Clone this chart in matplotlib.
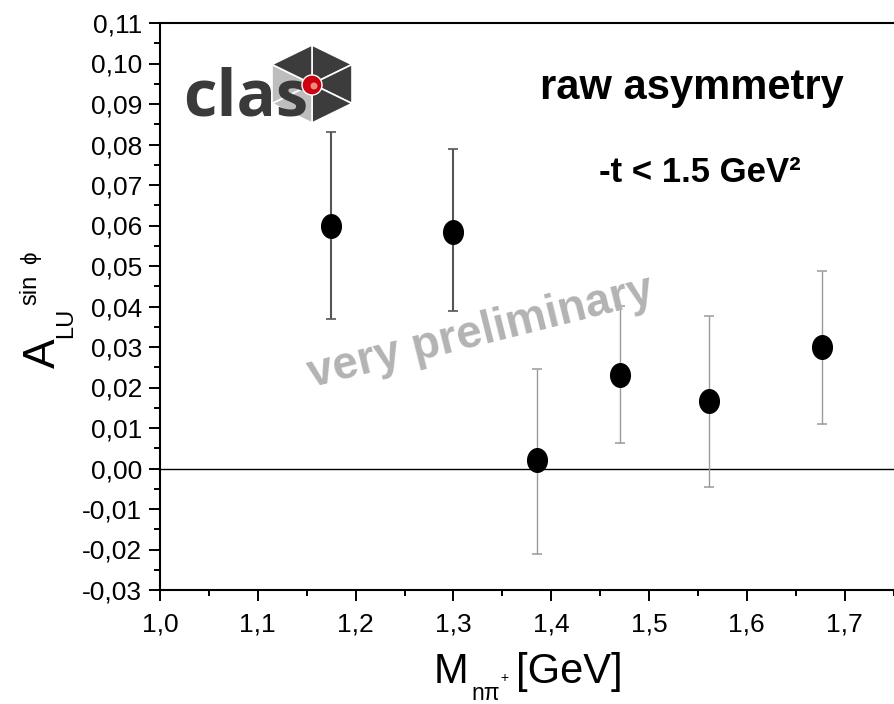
import numpy as np
import matplotlib
matplotlib.use("Agg")
import matplotlib.pyplot as plt
from matplotlib.ticker import MultipleLocator, FuncFormatter
from matplotlib.path import Path
from matplotlib.transforms import Affine2D
from matplotlib.patches import Polygon, Circle

plt.rcParams['font.family'] = ['Liberation Sans', 'DejaVu Sans']

# M(n pi+) bins and raw beam-spin asymmetry
mass = [1.175, 1.300, 1.385, 1.470, 1.561, 1.677]
asym = [0.0600, 0.0585, 0.0020, 0.0232, 0.0167, 0.0300]
err_lo = [0.0230, 0.0195, 0.0230, 0.0170, 0.0213, 0.0190]
err_hi = [0.0230, 0.0205, 0.0226, 0.0170, 0.0210, 0.0188]

x_ticks = [1.0, 1.1, 1.2, 1.3, 1.4, 1.5, 1.6, 1.7]

W, H = 894, 704
fig = plt.figure(figsize=(W / 100, H / 100), dpi=100)
ax = fig.add_axes([160 / W, 114 / H, 734 / W, 567 / H])

# slightly tall elliptical marker
ellipse = Path.unit_circle().transformed(Affine2D().scale(1.0, 1.2))

m = np.array(mass)
a = np.array(asym)
yerr = np.array([err_lo, err_hi])

ax.errorbar(m[:2], a[:2], yerr=yerr[:, :2], fmt='none', ecolor='#555555',
            elinewidth=1.5, capsize=3.6, capthick=1.2, zorder=2)
ax.errorbar(m[2:], a[2:], yerr=yerr[:, 2:], fmt='none', ecolor='#9a9a9a',
            elinewidth=1.0, capsize=3.6, capthick=1.1, zorder=2)
ax.plot(m, a, linestyle='none', marker=ellipse, markersize=17,
        color='black', zorder=3)

ax.axhline(0, color='black', lw=1.0, zorder=1)

ax.set_xlim(1.0, 1.7505)
ax.set_ylim(-0.03, 0.11)
ax.set_xticks(x_ticks)
ax.xaxis.set_minor_locator(MultipleLocator(0.05))
ax.yaxis.set_major_locator(MultipleLocator(0.01))
ax.yaxis.set_minor_locator(MultipleLocator(0.005))


def comma_fmt(digits):
    def f(v, _):
        if abs(v) < 1e-9:
            v = 0.0
        return f'{v:.{digits}f}'.replace('.', ',')
    return FuncFormatter(f)


ax.xaxis.set_major_formatter(comma_fmt(1))
ax.yaxis.set_major_formatter(comma_fmt(2))

ax.spines['right'].set_visible(False)
for s in ('left', 'bottom', 'top'):
    ax.spines[s].set_linewidth(1.5)
ax.tick_params(which='major', direction='out', length=8, width=1.4,
               labelsize=19, top=False, right=False)
ax.tick_params(which='minor', direction='out', length=4.2, width=1.4,
               top=False, right=False)
ax.tick_params(axis='y', which='major', pad=5)
ax.tick_params(axis='x', which='major', pad=8)


def px_text(x, y, s, size, rot=0, **kw):
    # text anchored at its baseline start, given in pixels from top-left
    fig.text(x / W, 1 - y / H, s, fontsize=size, rotation=rot,
             rotation_mode='anchor', ha='left', va='baseline', **kw)


# axis titles built from pieces so the indices sit like the original
px_text(55, 368, 'A', 32, rot=90)
px_text(72, 338, 'LU', 17, rot=90)
px_text(36, 305, 'sin', 17, rot=90)
px_text(36, 264, 'ϕ', 16, rot=90)

px_text(434, 683, 'M', 30)
px_text(471, 700, 'nπ', 16.5)
px_text(500, 682, '+', 10)
px_text(516, 683, '[GeV]', 30)

# annotations
fig.text(692 / W, 1 - 88 / H, 'raw asymmetry', fontsize=30,
         fontweight='bold', ha='center', va='center')
fig.text(700 / W, 1 - 172 / H, '-t < 1.5 GeV²', fontsize=25,
         fontweight='bold', ha='center', va='center')
fig.text(481 / W, 1 - 333 / H, 'very preliminary', fontsize=33,
         fontweight='bold', color='#b3b3b3', rotation=14,
         ha='center', va='center', zorder=0)

# CLAS logo, drawn in pixel units
lg = fig.add_axes([180 / W, 1 - 128 / H, 180 / W, 88 / H])
lg.set_xlim(180, 360)
lg.set_ylim(128, 40)
lg.axis('off')

cx, cy, rx, ry = 312, 84, 40, 39
verts = [(cx, cy - ry), (cx + rx, cy - ry / 2), (cx + rx, cy + ry / 2),
         (cx, cy + ry), (cx - rx, cy + ry / 2), (cx - rx, cy - ry / 2)]
face = ['#3c3c3c', '#3c3c3c', '#3c3c3c', '#bdbdbd', '#bdbdbd', '#3c3c3c']
for i in range(6):
    tri = [(cx, cy), verts[i], verts[(i + 1) % 6]]
    lg.add_patch(Polygon(tri, closed=True, facecolor=face[i],
                         edgecolor='white', lw=1.2, zorder=1))
lg.text(183, 116, 'clas', fontsize=47, family='Open Sans', fontweight='bold',
        color='#3a3a3a', ha='left', va='baseline', zorder=2)
lg.add_patch(Circle((cx, cy + 1), 10, facecolor='#cc0010', edgecolor='white',
                    lw=1.0, zorder=3))
lg.add_patch(Circle((cx + 2, cy + 2), 3.5, facecolor='#f08a7a',
                    edgecolor='none', zorder=4))

fig.savefig('out.png', dpi=100)
